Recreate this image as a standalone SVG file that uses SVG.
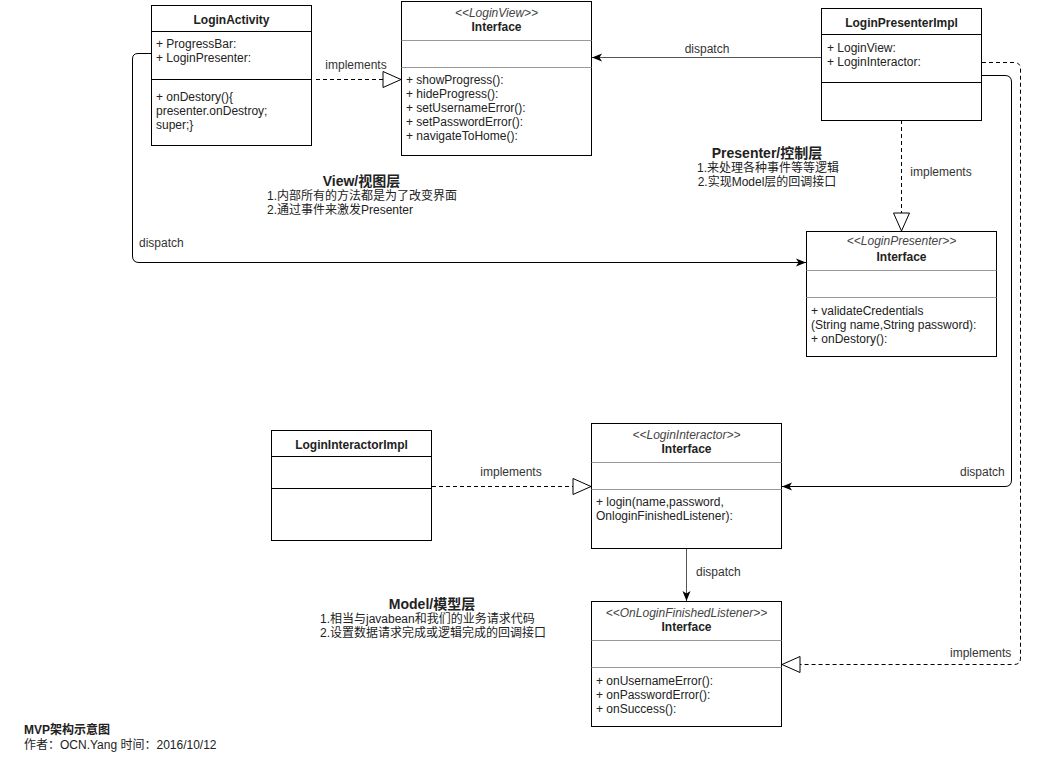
<svg xmlns="http://www.w3.org/2000/svg" width="1041" height="769" viewBox="0 0 1041 769">
<style>
text{font-family:"Liberation Sans","Noto Sans CJK SC",sans-serif;font-size:12px;fill:#222}
.t{font-weight:bold;text-anchor:middle}
.st{font-style:italic;text-anchor:middle;fill:#444}
.sec{font-weight:bold;font-size:14px;text-anchor:middle}
.m{text-anchor:middle}
.box{fill:#fff;stroke:#000;stroke-width:1}
.dv{stroke:#000;stroke-width:1}
.dvg{stroke:#999;stroke-width:1}
.c{fill:none;stroke:#000;stroke-width:1}
.g{stroke:#555}
.d{stroke-dasharray:4 3}
.lbl{fill:#333}
</style>
<defs>
<marker id="tri" markerUnits="userSpaceOnUse" markerWidth="20" markerHeight="18" refX="18" refY="8" orient="auto" overflow="visible">
<path d="M0,0 L18,8 L0,16 Z" fill="#fff" stroke="#000" stroke-width="1"/>
</marker>
<marker id="arr" markerUnits="userSpaceOnUse" markerWidth="12" markerHeight="10" refX="10" refY="4" orient="auto" overflow="visible">
<path d="M0,0 L10,4 L0,8 L2.5,4 Z" fill="#000"/>
</marker>
</defs>

<g id="connectors">
<path class="c d" d="M316,79.5 L401,79.5" marker-end="url(#tri)"/>
<path class="c g" d="M821,57.5 L592,57.5" marker-end="url(#arr)"/>
<path class="c" d="M151,53.5 L138,53.5 Q132.5,53.5 132.5,59 L132.5,256 Q132.5,262.5 139,262.5 L806,262.5" marker-end="url(#arr)"/>
<path class="c d" d="M901.5,120 L901.5,231" marker-end="url(#tri)"/>
<path class="c" d="M982,75.5 L1005,75.5 Q1011.5,75.5 1011.5,82 L1011.5,480 Q1011.5,486.5 1005,486.5 L782,486.5" marker-end="url(#arr)"/>
<path class="c d" d="M982,62.5 L1014,62.5 Q1020.5,62.5 1020.5,69 L1020.5,658 Q1020.5,664.5 1014,664.5 L782,664.5" marker-end="url(#tri)"/>
<path class="c d" d="M432,486.5 L591,486.5" marker-end="url(#tri)"/>
<path class="c g" d="M686.5,548 L686.5,601" marker-end="url(#arr)"/>
<text class="lbl m" x="356" y="69">implements</text>
<text class="lbl m" x="707" y="53">dispatch</text>
<text class="lbl" x="139" y="247">dispatch</text>
<text class="lbl m" x="941" y="176">implements</text>
<text class="lbl m" x="511" y="476">implements</text>
<text class="lbl" x="960" y="476">dispatch</text>
<text class="lbl" x="696" y="576">dispatch</text>
<text class="lbl" x="950" y="656.5">implements</text>
</g>

<g id="LoginActivity">
<rect class="box" x="151.5" y="5.5" width="160" height="140"/>
<line class="dv" x1="151.5" y1="31.5" x2="311.5" y2="31.5"/>
<line class="dv" x1="151.5" y1="79.5" x2="311.5" y2="79.5"/>
<text class="t" x="231.5" y="24">LoginActivity</text>
<text x="156" y="48">+ ProgressBar:</text>
<text x="156" y="62">+ LoginPresenter:</text>
<text x="156" y="101">+ onDestory(){</text>
<text x="156" y="115">presenter.onDestroy;</text>
<text x="156" y="129">super;}</text>
</g>

<g id="LoginView">
<rect class="box" x="401.5" y="1.5" width="190" height="154"/>
<line class="dvg" x1="401.5" y1="40.5" x2="591.5" y2="40.5"/>
<line class="dvg" x1="401.5" y1="67.5" x2="591.5" y2="67.5"/>
<text class="st" x="496.5" y="17">&lt;&lt;LoginView&gt;&gt;</text>
<text class="t" x="496.5" y="31">Interface</text>
<text x="406" y="84">+ showProgress():</text>
<text x="406" y="98">+ hideProgress():</text>
<text x="406" y="112">+ setUsernameError():</text>
<text x="406" y="126">+ setPasswordError():</text>
<text x="406" y="140">+ navigateToHome():</text>
</g>

<g id="LoginPresenterImpl">
<rect class="box" x="821.5" y="8.5" width="160" height="112"/>
<line class="dv" x1="821.5" y1="34.5" x2="981.5" y2="34.5"/>
<line class="dv" x1="821.5" y1="82.5" x2="981.5" y2="82.5"/>
<text class="t" x="901.5" y="27">LoginPresenterImpl</text>
<text x="827" y="52">+ LoginView:</text>
<text x="827" y="66">+ LoginInteractor:</text>
</g>

<g id="LoginPresenter">
<rect class="box" x="806.5" y="231.5" width="190" height="125"/>
<line class="dvg" x1="806.5" y1="270.5" x2="996.5" y2="270.5"/>
<line class="dvg" x1="806.5" y1="297.5" x2="996.5" y2="297.5"/>
<text class="st" x="901.5" y="245">&lt;&lt;LoginPresenter&gt;&gt;</text>
<text class="t" x="901.5" y="261">Interface</text>
<text x="811" y="315">+ validateCredentials</text>
<text x="811" y="329">(String name,String password):</text>
<text x="811" y="343">+ onDestory():</text>
</g>

<g id="LoginInteractorImpl">
<rect class="box" x="271.5" y="430.5" width="160" height="110"/>
<line class="dv" x1="271.5" y1="456.5" x2="431.5" y2="456.5"/>
<line class="dv" x1="271.5" y1="488.5" x2="431.5" y2="488.5"/>
<text class="t" x="351.5" y="449">LoginInteractorImpl</text>
</g>

<g id="LoginInteractor">
<rect class="box" x="591.5" y="423.5" width="190" height="125"/>
<line class="dvg" x1="591.5" y1="462.5" x2="781.5" y2="462.5"/>
<line class="dvg" x1="591.5" y1="489.5" x2="781.5" y2="489.5"/>
<text class="st" x="686.5" y="439">&lt;&lt;LoginInteractor&gt;&gt;</text>
<text class="t" x="686.5" y="453">Interface</text>
<text x="596" y="506">+ login(name,password,</text>
<text x="596" y="520">OnloginFinishedListener):</text>
</g>

<g id="OnLoginFinishedListener">
<rect class="box" x="591.5" y="601.5" width="190" height="125"/>
<line class="dvg" x1="591.5" y1="640.5" x2="781.5" y2="640.5"/>
<line class="dvg" x1="591.5" y1="667.5" x2="781.5" y2="667.5"/>
<text class="st" x="686.5" y="617">&lt;&lt;OnLoginFinishedListener&gt;&gt;</text>
<text class="t" x="686.5" y="631">Interface</text>
<text x="596" y="685">+ onUsernameError():</text>
<text x="596" y="699">+ onPasswordError():</text>
<text x="596" y="713">+ onSuccess():</text>
</g>

<g id="ViewNote">
<text class="sec" x="361.5" y="186">View/视图层</text>
<text x="267" y="200">1.内部所有的方法都是为了改变界面</text>
<text x="267" y="214">2.通过事件来激发Presenter</text>
</g>

<g id="PresenterNote">
<text class="sec" x="767" y="158">Presenter/控制层</text>
<text class="m" x="768" y="172">1.来处理各种事件等等逻辑</text>
<text class="m" x="767" y="186">2.实现Model层的回调接口</text>
</g>

<g id="ModelNote">
<text class="sec" x="432" y="609">Model/模型层</text>
<text x="320" y="623">1.相当与javabean和我们的业务请求代码</text>
<text x="320" y="637">2.设置数据请求完成或逻辑完成的回调接口</text>
</g>

<g id="Footer">
<text x="24" y="734" font-weight="bold">MVP架构示意图</text>
<text x="24" y="748.5">作者：OCN.Yang 时间：2016/10/12</text>
</g>
</svg>
